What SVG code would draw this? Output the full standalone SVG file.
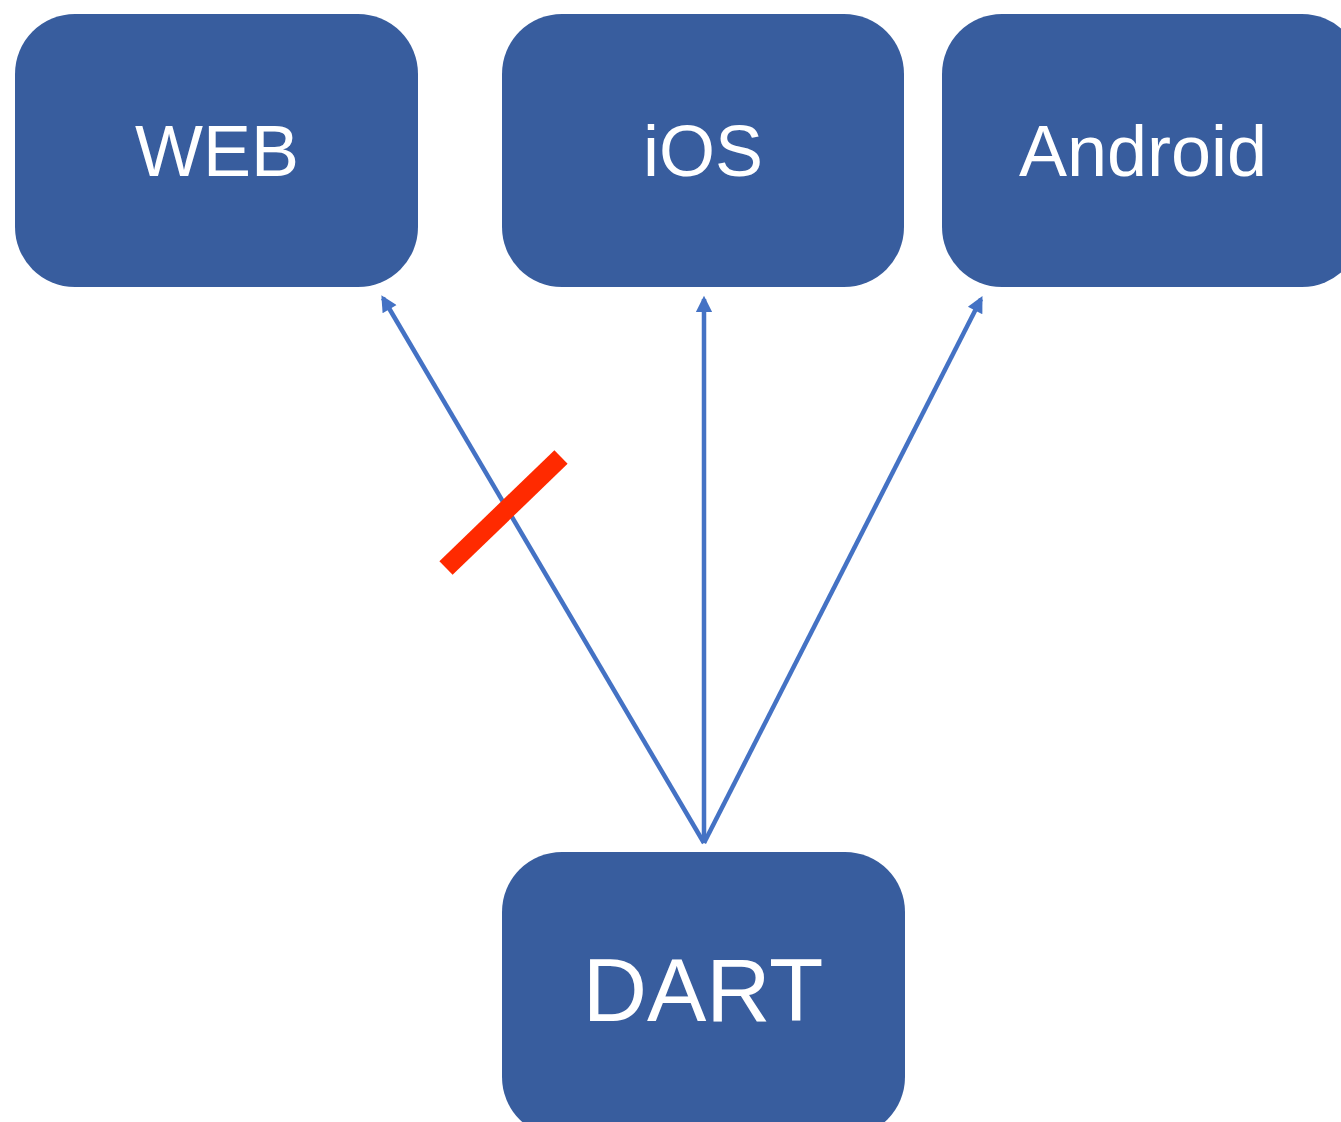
<svg xmlns="http://www.w3.org/2000/svg" width="1341" height="1122" viewBox="0 0 1341 1122">
<style>
.box{fill:#385D9E;}
.lbl{fill:#ffffff;font-family:"Liberation Sans",Arial,sans-serif;text-anchor:middle;}
.conn{stroke:#4472C4;stroke-width:4.5;fill:none;}
</style>
<defs>
<marker id="arr" viewBox="0 0 10 10" refX="8" refY="5" markerWidth="4.6" markerHeight="3.6" orient="auto" markerUnits="strokeWidth">
<path d="M0,0 L10,5 L0,10 z" fill="#4472C4"/>
</marker>
</defs>
<rect width="1341" height="1122" fill="#ffffff"/>
<g id="connectors">
<line class="conn" x1="704" y1="843" x2="383" y2="298" marker-end="url(#arr)"/>
<line class="conn" x1="704" y1="843" x2="704" y2="299" marker-end="url(#arr)"/>
<line class="conn" x1="704" y1="843" x2="981" y2="299" marker-end="url(#arr)"/>
<line x1="446" y1="568" x2="561" y2="457" stroke="#FF2A00" stroke-width="19"/>
</g>
<g id="web">
<rect class="box" x="15" y="14" width="403" height="273" rx="60"/>
<text class="lbl" x="217" y="176" font-size="72">WEB</text>
</g>
<g id="ios">
<rect class="box" x="502" y="14" width="402" height="273" rx="60"/>
<text class="lbl" x="703" y="176" font-size="72">iOS</text>
</g>
<g id="android">
<rect class="box" x="942" y="14" width="420" height="273" rx="60"/>
<text class="lbl" x="1143" y="176" font-size="72">Android</text>
</g>
<g id="dart">
<rect class="box" x="502" y="852" width="403" height="285" rx="60"/>
<text class="lbl" x="703" y="1021" font-size="89">DART</text>
</g>
</svg>
